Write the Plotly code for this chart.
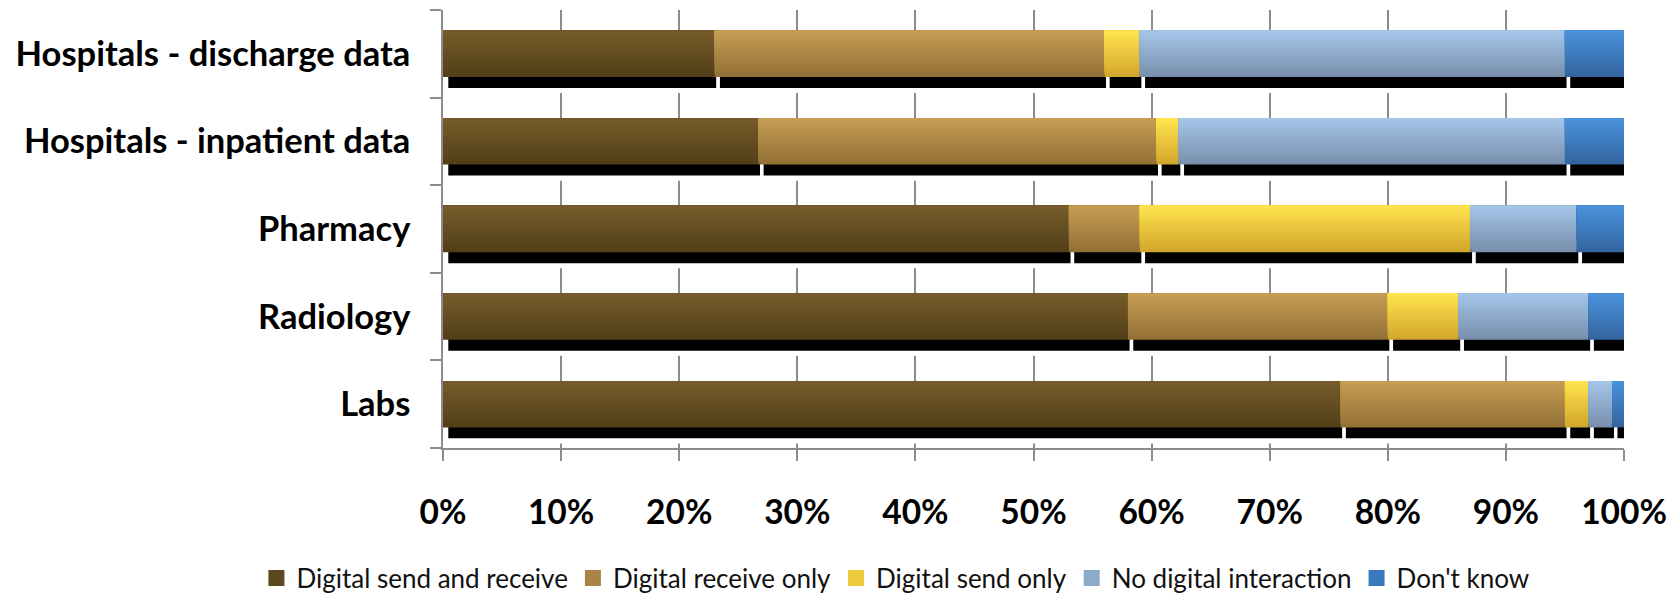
import numpy as np
import plotly.graph_objects as go

# Categories listed bottom-to-top (Plotly draws the first category at the bottom)
categories = ["Labs", "Radiology", "Pharmacy",
              "Hospitals - inpatient data", "Hospitals - discharge data"]

series_names = ["Digital send and receive", "Digital receive only",
                "Digital send only", "No digital interaction", "Don't know"]

send_receive = [76, 58, 53, 26.7, 23]
receive_only = [19, 22, 6, 33.7, 33]
send_only = [2, 6, 28, 1.9, 3]
no_digital = [2, 11, 9, 32.7, 36]
dont_know = [1, 3, 4, 5, 5]

x_ticks = list(range(0, 101, 10))
x_tick_labels = [f"{v}%" for v in x_ticks]

series_values = [send_receive, receive_only, send_only, no_digital, dont_know]

# Vertical gradient per series: (top colour, bottom colour)
top_colors = ["#755b2a", "#c59c52", "#ffe24c", "#a4c4e8", "#4a91da"]
bottom_colors = ["#533f18", "#937137", "#d2a72d", "#7890ad", "#3365a0"]
legend_colors = ["#5e4820", "#a88547", "#ecc93d", "#8daac9", "#3a79bf"]

BAR_W = 0.53          # bar thickness in category units
N_STRIPS = 16         # strips used to build the gradient
SHADOW_DROP = 0.145   # shadow offset downwards (category units)
SHADOW_SHIFT = 0.3    # shadow offset to the right (percent units)

FONT = "Lato"


def mix(c1, c2, t):
    a = np.array([int(c1[i:i + 2], 16) for i in (1, 3, 5)], dtype=float)
    b = np.array([int(c2[i:i + 2], 16) for i in (1, 3, 5)], dtype=float)
    r = a + (b - a) * t
    return "#" + "".join(f"{int(round(v)):02x}" for v in r)


vals_arr = np.array(series_values, dtype=float)
bases = np.vstack([np.zeros(len(categories)), np.cumsum(vals_arr, axis=0)[:-1]])

fig = go.Figure()

# Drop shadows under each segment: a soft grey fringe, then the solid core
for colour, extra in (("#b0b0b0", 0.018), ("black", 0.0)):
    for vals, base in zip(vals_arr, bases):
        fig.add_trace(go.Bar(
            y=categories, x=vals, base=base + SHADOW_SHIFT, orientation="h",
            width=BAR_W, offset=-BAR_W / 2 - SHADOW_DROP - extra,
            marker=dict(color=colour, line=dict(color="white", width=3.5)),
            showlegend=False, hoverinfo="skip",
        ))

# Gradient-filled segments: each strip runs from its own bottom to the bar top
for s, (vals, base) in enumerate(zip(vals_arr, bases)):
    for k in range(N_STRIPS):
        t = k / (N_STRIPS - 1)
        start = -BAR_W / 2 + k * BAR_W / N_STRIPS
        fig.add_trace(go.Bar(
            y=categories, x=vals, base=base, orientation="h",
            width=BAR_W - k * BAR_W / N_STRIPS, offset=start,
            marker=dict(color=mix(bottom_colors[s], top_colors[s], t),
                        line=dict(width=0)),
            showlegend=False,
            hovertemplate=f"{series_names[s]}: %{{x}}%<extra></extra>",
        ))

# Legend entries
for name, col in zip(series_names, legend_colors):
    fig.add_trace(go.Scatter(
        x=[None], y=[None], mode="markers", name=name,
        marker=dict(symbol="square", size=16, color=col),
    ))

fig.update_layout(
    width=1675, height=594,
    margin=dict(l=443, r=51, t=10, b=146, autoexpand=False),
    barmode="overlay",
    plot_bgcolor="white", paper_bgcolor="white",
    font=dict(family=FONT, color="black"),
    legend=dict(
        orientation="h", x=-0.158, xanchor="left", y=-0.297, yanchor="middle",
        font=dict(size=26, family=FONT, color="#111111"), itemsizing="trace",
        traceorder="normal",
    ),
    xaxis=dict(
        range=[0, 100], tickvals=x_ticks, ticktext=x_tick_labels,
        showgrid=True, gridcolor="#8c8c8c", gridwidth=1.5,
        showline=True, linecolor="#8c8c8c", linewidth=1.5,
        ticks="outside", ticklen=11, tickcolor="#8c8c8c", tickwidth=1.5,
        tickfont=dict(size=33.5, family=FONT, weight="bold"),
        ticklabelstandoff=23, zeroline=False, fixedrange=True,
    ),
    yaxis=dict(
        categoryorder="array", categoryarray=categories,
        showgrid=False, showline=True, linecolor="#8c8c8c", linewidth=1.5,
        ticks="outside", tickson="boundaries", ticklen=11,
        tickcolor="#8c8c8c", tickwidth=1.5,
        tickfont=dict(size=34.5, family=FONT, weight="bold"),
        ticklabelstandoff=24, zeroline=False, fixedrange=True,
    ),
)

fig.write_html("out.html")
